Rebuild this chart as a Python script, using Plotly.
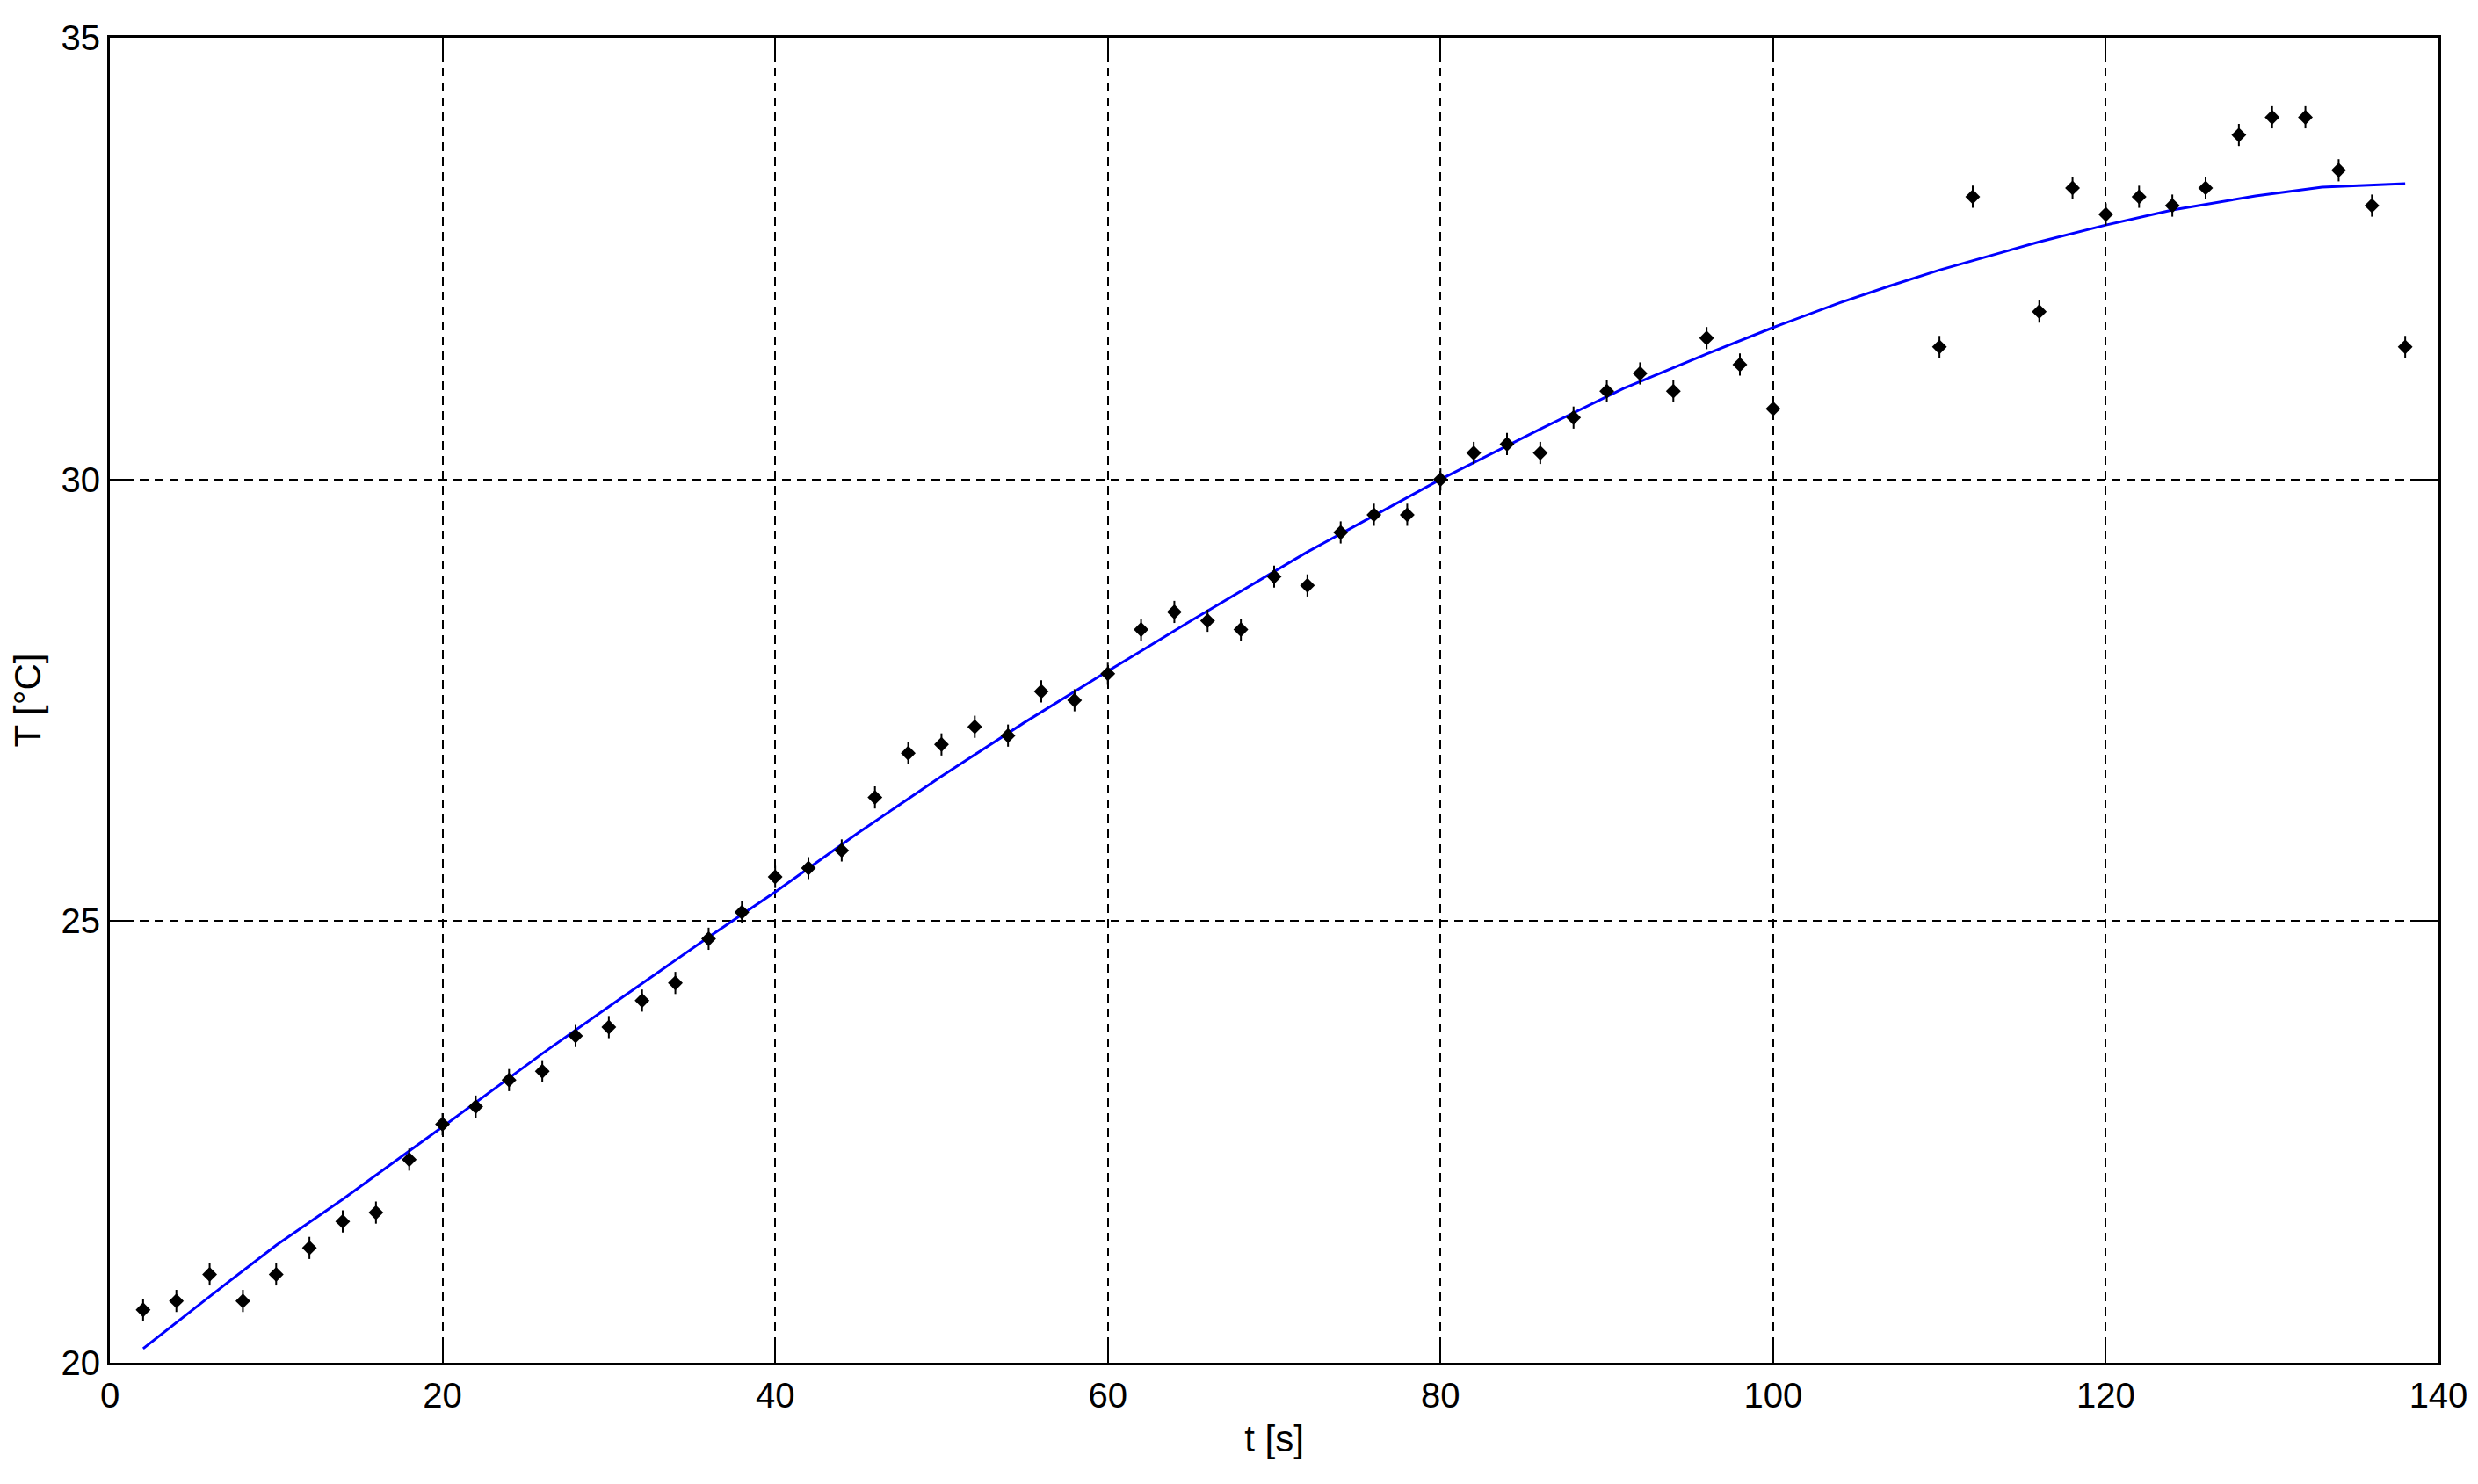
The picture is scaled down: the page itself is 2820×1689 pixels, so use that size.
import plotly.graph_objects as go

# measured samples (every 2 s, gap between 100 and 110 s)
t_meas = [2, 4, 6, 8, 10, 12, 14, 16, 18, 20, 22, 24, 26, 28, 30, 32, 34, 36, 38, 40,
          42, 44, 46, 48, 50, 52, 54, 56, 58, 60, 62, 64, 66, 68, 70, 72, 74, 76, 78, 80,
          82, 84, 86, 88, 90, 92, 94, 96, 98, 100,
          110, 112, 116, 118, 120, 122, 124, 126, 128, 130, 132, 134, 136, 138]
T_meas = [20.6, 20.7, 21.0, 20.7, 21.0, 21.3, 21.6, 21.7, 22.3, 22.7, 22.9, 23.2, 23.3, 23.7, 23.8, 24.1, 24.3, 24.8, 25.1, 25.5,
          25.6, 25.8, 26.4, 26.9, 27.0, 27.2, 27.1, 27.6, 27.5, 27.8, 28.3, 28.5, 28.4, 28.3, 28.9, 28.8, 29.4, 29.6, 29.6, 30.0,
          30.3, 30.4, 30.3, 30.7, 31.0, 31.2, 31.0, 31.6, 31.3, 30.8,
          31.5, 33.2, 31.9, 33.3, 33.0, 33.2, 33.1, 33.3, 33.9, 34.1, 34.1, 33.5, 33.1, 31.5]

# fitted curve
t_fit = [2, 6, 10, 14, 20, 26, 30, 36, 40, 45, 50, 55, 60, 65, 72, 80, 86, 91, 96, 100, 104, 107, 110, 116, 120, 124, 129, 133, 138]
T_fit = [20.16, 20.75, 21.33, 21.85, 22.67, 23.5, 24.03, 24.82, 25.33, 26.0, 26.64, 27.25, 27.83, 28.4, 29.18, 30.0, 30.57, 31.03,
         31.42, 31.72, 32.0, 32.19, 32.37, 32.69, 32.88, 33.05, 33.21, 33.31, 33.35]

x_ticks = [0, 20, 40, 60, 80, 100, 120, 140]
y_ticks = [20, 25, 30, 35]

FONT = "Liberation Sans Narrow, Arial Narrow, sans-serif"

fig = go.Figure()
fig.add_trace(go.Scatter(
    x=t_fit, y=T_fit, mode="lines",
    line=dict(color="#0000FF", width=3),
    showlegend=False,
))
# data markers: small diamond with a thin vertical stem
fig.add_trace(go.Scatter(
    x=t_meas, y=T_meas, mode="markers",
    marker=dict(symbol="line-ns", size=18, color="black", line=dict(width=2, color="black")),
    showlegend=False,
))
fig.add_trace(go.Scatter(
    x=t_meas, y=T_meas, mode="markers",
    marker=dict(symbol="diamond", size=13, color="black", line=dict(width=0)),
    showlegend=False,
))

axis_common = dict(
    showline=True, linecolor="black", linewidth=3, mirror="ticks",
    ticks="inside", ticklen=26, tickwidth=2, tickcolor="black",
    showgrid=True, gridcolor="black", gridwidth=2, griddash="10px,7px",
    zeroline=False, automargin=False,
    tickfont=dict(family=FONT, size=40, color="black"),
    title_font=dict(family=FONT, size=42, color="black"),
)

fig.update_xaxes(
    range=[0, 140], tickvals=x_ticks,
    title_text="t [s]", title_standoff=14,
    **axis_common,
)
fig.update_yaxes(
    range=[20, 35], tickvals=y_ticks,
    title_text="T [°C]", title_standoff=23,
    **axis_common,
)

# page body adds an 8px offset, so the figure is sized to fit inside the window
fig.update_layout(
    width=2812, height=1681,
    margin=dict(l=117, r=45, t=35, b=138),
    plot_bgcolor="white", paper_bgcolor="white",
    font=dict(family=FONT, color="black"),
)

fig.write_html("out.html")
